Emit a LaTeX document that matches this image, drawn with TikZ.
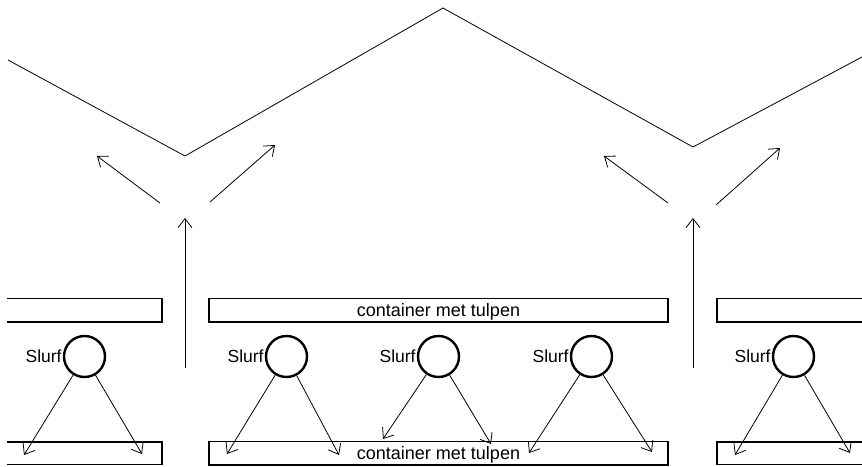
\documentclass[tikz,border=0pt]{standalone}
\usepackage{fontspec}
\setmainfont{Liberation Sans}
\usetikzlibrary{arrows.meta}
\begin{document}
\begin{tikzpicture}[x=1pt,y=-1pt,
  thin line/.style={line width=0.8pt},
  arr/.style={thin line,-{Straight Barb[length=9pt,width=14pt]}},
  boxline/.style={line width=1.8pt},
  trunk/.style={circle,draw,line width=2.4pt,minimum size=41pt,inner sep=0pt},
  tray/.style={rectangle,draw,line width=1.8pt,minimum width=459pt,minimum height=23.5pt,inner sep=0pt,
    text depth=0pt,font=\fontsize{18pt}{19pt}\selectfont},
  lbl/.style={anchor=east,inner sep=1pt,font=\fontsize{17.5pt}{18pt}\selectfont}]
\useasboundingbox (0,0) rectangle (862,466);

% roof line
\coordinate (r0) at (8,60);
\coordinate (r1) at (185,156);
\coordinate (r2) at (443,8);
\coordinate (r3) at (693,147);
\coordinate (r4) at (862,57);
\draw[thin line] (r0) -- (r1) -- (r2) -- (r3) -- (r4);

% rising air, left group
\coordinate (ua) at (185,368);
\coordinate (ub) at (185,218);
\draw[arr] (ua) -- (ub);
\coordinate (la1) at (160,203);
\coordinate (la2) at (97,156);
\draw[arr] (la1) -- (la2);
\coordinate (lb1) at (210,202);
\coordinate (lb2) at (275,145);
\draw[arr] (lb1) -- (lb2);

% rising air, right group
\coordinate (va) at (693,368);
\coordinate (vb) at (693,218);
\draw[arr] (va) -- (vb);
\coordinate (ra1) at (668,203);
\coordinate (ra2) at (604,156);
\draw[arr] (ra1) -- (ra2);
\coordinate (rb1) at (716,205);
\coordinate (rb2) at (780,148);
\draw[arr] (rb1) -- (rb2);

% partial trays at the edges
\draw[boxline] (7,298.5) -- (162,298.5) -- (162,322) -- (7,322);
\draw[boxline] (7,442) -- (162,442) -- (162,464.5) -- (7,464.5);
\draw[boxline] (862,298.5) -- (717,298.5) -- (717,322) -- (862,322);
\draw[boxline] (862,442) -- (717,442) -- (717,464.5) -- (862,464.5);

% middle trays
\node[tray] (top) at (438.5,310.25) {container met tulpen};
\node[tray] (bot) at (438.5,453.25) {container met tulpen};

% trunks
\node[trunk] (c1) at (84.5,356.5) {};
\node[trunk] (c2) at (286.5,356.5) {};
\node[trunk] (c3) at (438.5,356.5) {};
\node[trunk] (c4) at (591.5,356.5) {};
\node[trunk] (c5) at (793.5,356.5) {};
\foreach \c in {c1,c2,c3,c4,c5}
  \node[lbl] at (\c.west) {Slurf};

% spray targets
\coordinate (e1a) at (24,455);
\coordinate (e1b) at (142,454);
\coordinate (e2a) at (227,454);
\coordinate (e2b) at (339,455);
\coordinate (e3a) at (383,439);
\coordinate (e3b) at (491,444);
\coordinate (e4a) at (529,453);
\coordinate (e4b) at (652,452);
\coordinate (e5a) at (735,455);
\coordinate (e5b) at (850,453);

\draw[arr] (c1) -- (e1a);
\draw[arr] (c1) -- (e1b);
\draw[arr] (c2) -- (e2a);
\draw[arr] (c2) -- (e2b);
\draw[arr] (c3) -- (e3a);
\draw[arr] (c3) -- (e3b);
\draw[arr] (c4) -- (e4a);
\draw[arr] (c4) -- (e4b);
\draw[arr] (c5) -- (e5a);
\draw[arr] (c5) -- (e5b);
\end{tikzpicture}
\end{document}
